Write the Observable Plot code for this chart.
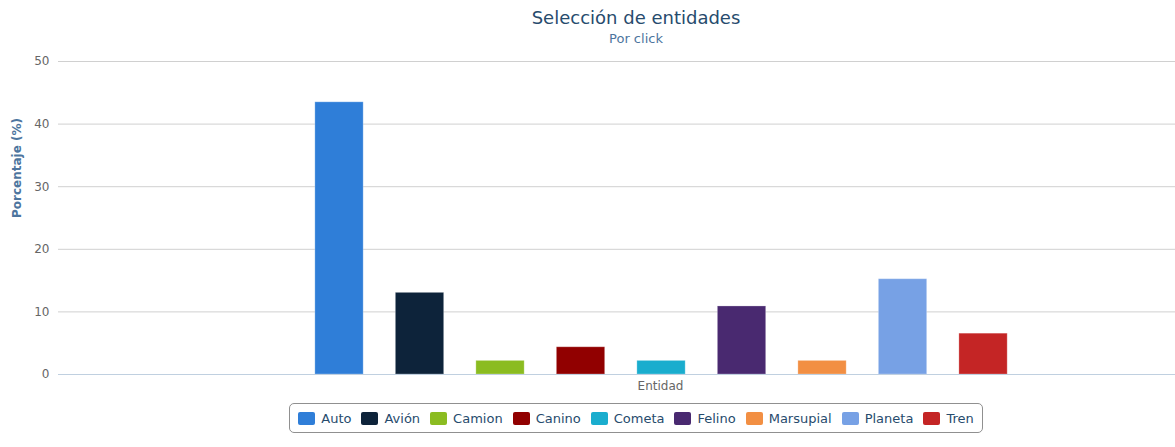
<!DOCTYPE html>
<html>
<head>
<meta charset="utf-8">
<script src="https://cdn.jsdelivr.net/npm/d3@7"></script>
<script src="https://cdn.jsdelivr.net/npm/@observablehq/plot@0.6"></script>
<style>
  html, body { margin: 0; padding: 0; background: #fff; overflow: hidden; }
  body { font-family: "DejaVu Sans", Verdana, sans-serif; }
  #chart { width: 1272px; position: relative; }
  #head { height: 48px; text-align: center; position: relative; }
  #title { position: absolute; left: 0; right: 0; top: 8px; font-size: 18px; color: #274b6d; line-height: 20px; }
  #subtitle { position: absolute; left: 0; right: 0; top: 31px; font-size: 13px; color: #4d759e; line-height: 16px; }
  #legendWrap { text-align: center; margin-top: 5px; }
  #legend { display: inline-flex; align-items: center; border: 1px solid #909090; border-radius: 5px;
            height: 28px; padding: 0 8px 0 8px; box-sizing: content-box; }
  .item { display: flex; align-items: center; font-size: 13px; color: #274b6d; margin-right: 10px; }
  .item:last-child { margin-right: 0; }
  .sw { width: 17px; height: 13px; border-radius: 2px; margin-right: 6px; }
</style>
</head>
<body>
<div id="chart">
  <div id="head"><div id="title"></div><div id="subtitle"></div></div>
  <div id="plot"></div>
  <div id="legendWrap"><div id="legend"></div></div>
</div>
<script>
const titleText = "Selección de entidades";
const subtitleText = "Por click";
const xTitle = "Entidad";
const yTitle = "Porcentaje (%)";
const categories = ["Auto", "Avión", "Camion", "Canino", "Cometa", "Felino", "Marsupial", "Planeta", "Tren"];
const values = [43.48, 13.04, 2.17, 4.35, 2.17, 10.87, 2.17, 15.22, 6.52];
const colors = ["#2f7ed8", "#0d233a", "#8bbc21", "#910000", "#1aadce", "#492970", "#f28f43", "#77a1e5", "#c42525"];
const yTicks = [0, 10, 20, 30, 40, 50];

document.getElementById("title").textContent = titleText;
document.getElementById("subtitle").textContent = subtitleText;

const data = categories.map((c, i) => ({name: c, value: values[i]}));

const chart = Plot.plot({
  width: 1272,
  height: 350,
  marginTop: 13,
  marginBottom: 24,
  marginLeft: 58,
  marginRight: 10,
  style: {fontFamily: "DejaVu Sans, Verdana, sans-serif", background: "#fff"},
  x: {domain: categories, paddingInner: 0.4, paddingOuter: 3.178, align: 0.502, round: false, axis: null},
  y: {domain: [0, 50], axis: null},
  color: {domain: categories, range: colors},
  marks: [
    Plot.gridY(yTicks.filter(d => d > 0), {stroke: "#d0d0d0", strokeOpacity: 1}),
    Plot.axisY(yTicks, {tickSize: 0, tickPadding: 9, label: null, fill: "#666", fontSize: 12}),
    Plot.barY(data, {x: "name", y: "value", fill: "name", stroke: "#fff", strokeOpacity: 0.25, strokeWidth: 1}),
    Plot.ruleY([0], {stroke: "#C0D0E0"}),
    Plot.text([xTitle], {frameAnchor: "bottom", dy: 15, fill: "#666", fontSize: 12}),
    Plot.text([yTitle], {frameAnchor: "left", rotate: -90, dx: -41, fill: "#4d759e", fontSize: 12, fontWeight: "bold"})
  ]
});
document.getElementById("plot").appendChild(chart);

const legend = document.getElementById("legend");
categories.forEach((c, i) => {
  const it = document.createElement("div");
  it.className = "item";
  const sw = document.createElement("span");
  sw.className = "sw";
  sw.style.background = colors[i];
  const t = document.createElement("span");
  t.textContent = c;
  it.appendChild(sw); it.appendChild(t);
  legend.appendChild(it);
});
</script>
</body>
</html>
